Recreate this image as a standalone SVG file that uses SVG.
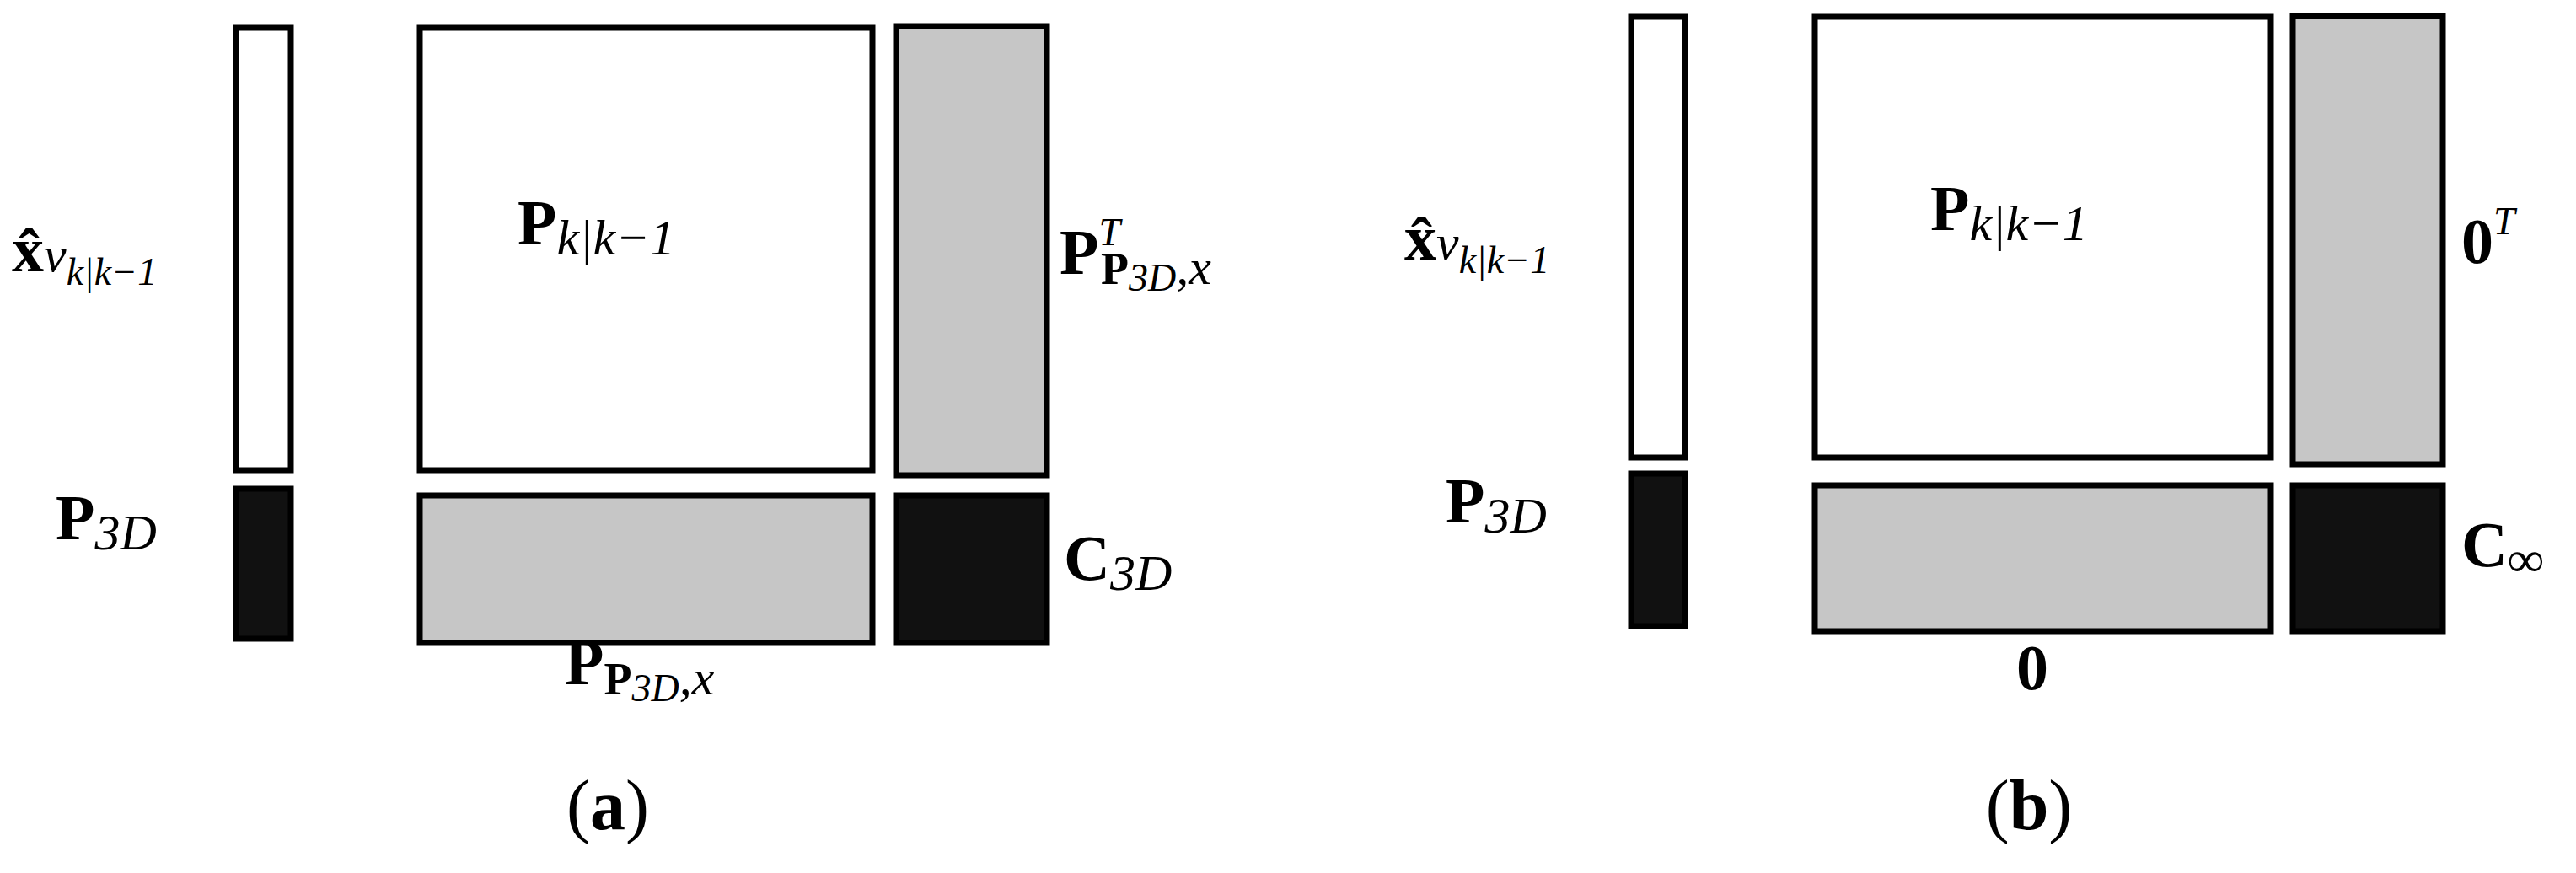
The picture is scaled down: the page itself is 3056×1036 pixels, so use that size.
<svg xmlns="http://www.w3.org/2000/svg" width="3056" height="1036" viewBox="0 0 3056 1036">
<style>
rect{stroke:#000;stroke-width:7}
.w{fill:#fff}.g{fill:#c6c6c6}.k{fill:#111}
text{font-family:"Liberation Serif",serif;font-size:76px;fill:#000}
.b{font-weight:bold}.i{font-style:italic;font-size:60px}
.s{font-size:46px;font-style:italic}
.pb{font-weight:bold;font-size:54px}
.cap{font-size:84px}
</style>
<rect width="3056" height="1036" style="fill:#fff;stroke:none"/>
<g id="panel-a">
<g id="a-vec"><rect class="w" x="280" y="33" width="65" height="525"/></g>
<g id="a-p3d"><rect class="k" x="280" y="580" width="65" height="178"/></g>
<g id="a-P"><rect class="w" x="498" y="33" width="537" height="525"/></g>
<g id="a-PT"><rect class="g" x="1063" y="31" width="179" height="533"/></g>
<g id="a-Pb"><rect class="g" x="498" y="588" width="537" height="175"/></g>
<g id="a-C"><rect class="k" x="1063" y="588" width="179" height="175"/></g>
<text x="14" y="322"><tspan class="b">x̂</tspan><tspan class="i">v</tspan><tspan class="s" dy="16">k|k−1</tspan></text>
<text x="614" y="290"><tspan class="b">P</tspan><tspan class="i" dy="12">k|k−1</tspan></text>
<text x="1257" y="325"><tspan class="b">P</tspan><tspan class="s" dy="-34">T</tspan><tspan class="pb" x="1306" dy="46">P</tspan><tspan class="s" dy="8">3D</tspan><tspan class="i" dy="-8">,x</tspan></text>
<text x="66" y="640"><tspan class="b">P</tspan><tspan class="i" dy="12">3D</tspan></text>
<text x="1262" y="688"><tspan class="b">C</tspan><tspan class="i" dy="12">3D</tspan></text>
<text x="670" y="812"><tspan class="b">P</tspan><tspan class="pb" dy="12">P</tspan><tspan class="s" dy="8">3D</tspan><tspan class="i" dy="-8">,x</tspan></text>
<text class="cap" x="721" y="984" text-anchor="middle">(<tspan class="b">a</tspan>)</text>
</g>
<g id="panel-b">
<g id="b-vec"><rect class="w" x="1935" y="20" width="64" height="523"/></g>
<g id="b-p3d"><rect class="k" x="1935" y="562" width="64" height="181"/></g>
<g id="b-P"><rect class="w" x="2153" y="20" width="541" height="523"/></g>
<g id="b-0T"><rect class="g" x="2720" y="19" width="178" height="532"/></g>
<g id="b-0"><rect class="g" x="2153" y="576" width="541" height="173"/></g>
<g id="b-C"><rect class="k" x="2720" y="576" width="178" height="173"/></g>
<text x="1666" y="308"><tspan class="b">x̂</tspan><tspan class="i">v</tspan><tspan class="s" dy="16">k|k−1</tspan></text>
<text x="2290" y="273"><tspan class="b">P</tspan><tspan class="i" dy="12">k|k−1</tspan></text>
<text x="2920" y="312"><tspan class="b">0</tspan><tspan class="s" dy="-34">T</tspan></text>
<text x="1715" y="620"><tspan class="b">P</tspan><tspan class="i" dy="12">3D</tspan></text>
<text x="2920" y="672"><tspan class="b">C</tspan><tspan class="i" dy="12">∞</tspan></text>
<text x="2411" y="818" text-anchor="middle" class="b">0</text>
<text class="cap" x="2407" y="984" text-anchor="middle">(<tspan class="b">b</tspan>)</text>
</g>
</svg>
